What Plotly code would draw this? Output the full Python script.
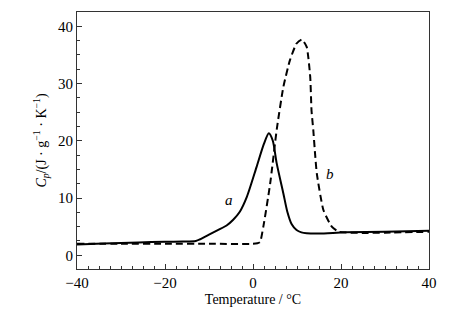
import plotly.graph_objects as go

# Curve a (solid)
a_x = [-40, -34, -26, -20, -16, -13, -12, -10, -8, -6, -4.5, -3, -1.4, 0.8, 2.5, 3.6, 4.5, 5.4, 6.9, 7.8, 8.8, 9.9, 11, 12.2, 15, 21, 30, 40]
a_y = [1.9, 2.05, 2.25, 2.35, 2.4, 2.5, 2.8, 3.6, 4.4, 5.2, 6.2, 7.6, 10.2, 15.4, 19.5, 21.3, 20.0, 16.0, 10.8, 7.6, 5.4, 4.4, 4.0, 3.85, 3.8, 4.0, 4.1, 4.3]

# Curve b (dashed)
b_x = [-40, -30, -20, -10, 0, 1, 1.6, 2.35, 3.9, 5.4, 6.9, 8.4, 9.9, 11.1, 12.2, 13.0, 13.3, 13.7, 14.1, 14.5, 16.0, 17.9, 19.5, 25, 30, 40]
b_y = [2.0, 2.0, 2.0, 2.0, 2.0, 2.1, 2.3, 5.0, 12.5, 22.0, 29.4, 34.1, 37.0, 37.7, 36.4, 31.2, 25.3, 21.9, 17.8, 14.3, 7.9, 5.0, 4.1, 3.9, 3.95, 4.1]

x_ticks = [-40, -20, 0, 20, 40]
x_labels = ["−40", "−20", "0", "20", "40"]
y_ticks = [0, 10, 20, 30, 40]
y_labels = ["0", "10", "20", "30", "40"]

FONT = "Liberation Serif, Times New Roman, serif"

fig = go.Figure()
fig.add_trace(go.Scatter(x=a_x, y=a_y, mode="lines",
                         line=dict(color="black", width=2, shape="spline", smoothing=0.7)))
fig.add_trace(go.Scatter(x=b_x, y=b_y, mode="lines",
                         line=dict(color="black", width=2, dash="7px,4px", shape="spline", smoothing=0.5)))

fig.add_annotation(x=-5.5, y=9.6, text="<i>a</i>", showarrow=False,
                   font=dict(family=FONT, size=15, color="black"))
fig.add_annotation(x=17.5, y=14.2, text="<i>b</i>", showarrow=False,
                   font=dict(family=FONT, size=15, color="black"))

axis_common = dict(showgrid=False, zeroline=False, showline=True, linecolor="#333333",
                   linewidth=1, mirror=True, ticks="inside", ticklen=5, tickcolor="#333333",
                   automargin=False,
                   tickfont=dict(family=FONT, size=15, color="black"))

fig.update_xaxes(range=[-40, 40], tickmode="array", tickvals=x_ticks, ticktext=x_labels,
                 minor=dict(dtick=2.5, tick0=0, ticks="inside", ticklen=3, tickcolor="#333333"),
                 title=dict(text="Temperature / °C", font=dict(family=FONT, size=14, color="black"), standoff=4),
                 **axis_common)
fig.update_yaxes(range=[-2.4, 42.5], tickmode="array", tickvals=y_ticks, ticktext=y_labels,
                 minor=dict(dtick=2.5, tick0=0, ticks="inside", ticklen=3, tickcolor="#333333"),
                 title=dict(text="<i>C</i><sub><i>p</i></sub>/(J · g<sup>−1</sup> · K<sup>−1</sup>)",
                            font=dict(family=FONT, size=14, color="black"), standoff=8),
                 **axis_common)

# page body has an 8px default margin, so the figure is shrunk by 8px and margins shifted
fig.update_layout(width=462, height=315, showlegend=False,
                  margin=dict(l=69, r=41, t=4, b=54),
                  paper_bgcolor="white", plot_bgcolor="white")

fig.write_html("out.html")
